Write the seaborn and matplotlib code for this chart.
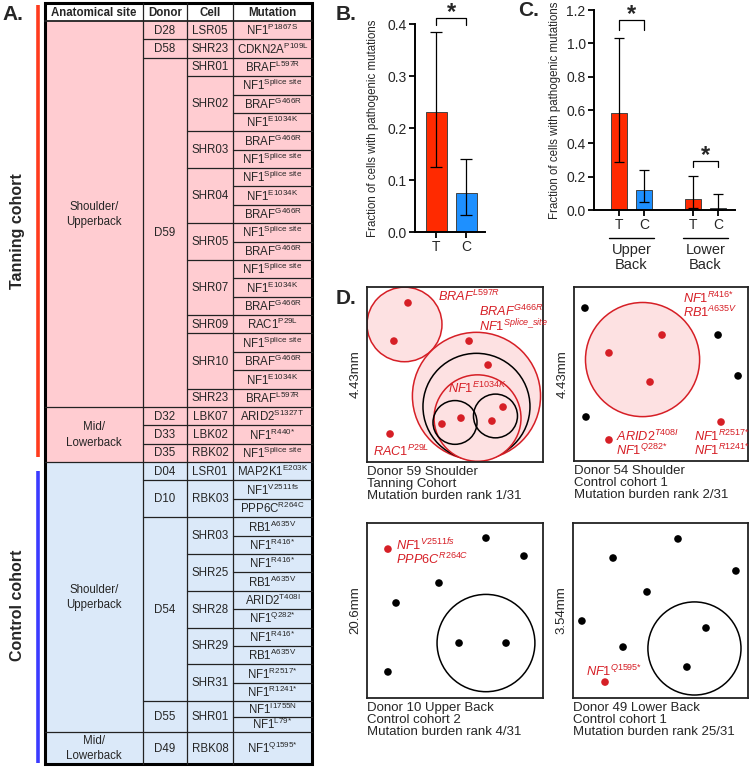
import numpy as np
import pandas as pd
import seaborn as sns
import matplotlib.pyplot as plt
import matplotlib.transforms as mtransforms
from matplotlib.patches import Rectangle, Circle
from matplotlib.ticker import FormatStrFormatter

sns.set_style('ticks')
plt.rcParams['font.family'] = ['Liberation Sans', 'DejaVu Sans']
plt.rcParams['mathtext.fontset'] = 'custom'
plt.rcParams['mathtext.rm'] = 'Liberation Sans'
plt.rcParams['mathtext.it'] = 'Liberation Sans:italic'
plt.rcParams['mathtext.bf'] = 'Liberation Sans:bold'

# ---- panel A table ----
cohort = ['T'] * 24 + ['C'] * 16
site = (['Shoulder/\nUpperback'] * 21 + ['Mid/\nLowerback'] * 3
        + ['Shoulder/\nUpperback'] * 15 + ['Mid/\nLowerback'])
donor = (['D28', 'D58'] + ['D59'] * 19 + ['D32', 'D33', 'D35', 'D04', 'D10', 'D10']
         + ['D54'] * 10 + ['D55', 'D55', 'D49'])
cell = ['LSR05', 'SHR23', 'SHR01', 'SHR02', 'SHR02', 'SHR02', 'SHR03', 'SHR03',
        'SHR04', 'SHR04', 'SHR04', 'SHR05', 'SHR05', 'SHR07', 'SHR07', 'SHR07',
        'SHR09', 'SHR10', 'SHR10', 'SHR10', 'SHR23', 'LBK07', 'LBK02', 'RBK02',
        'LSR01', 'RBK03', 'RBK03', 'SHR03', 'SHR03', 'SHR25', 'SHR25', 'SHR28',
        'SHR28', 'SHR29', 'SHR29', 'SHR31', 'SHR31', 'SHR01', 'SHR01', 'RBK08']
gene = ['NF1', 'CDKN2A', 'BRAF', 'NF1', 'BRAF', 'NF1', 'BRAF', 'NF1', 'NF1', 'NF1',
        'BRAF', 'NF1', 'BRAF', 'NF1', 'NF1', 'BRAF', 'RAC1', 'NF1', 'BRAF', 'NF1',
        'BRAF', 'ARID2', 'NF1', 'NF1',
        'MAP2K1', 'NF1', 'PPP6C', 'RB1', 'NF1', 'NF1', 'RB1', 'ARID2', 'NF1', 'NF1',
        'RB1', 'NF1', 'NF1', 'NF1', 'NF1', 'NF1']
variant = ['P1867S', 'P109L', 'L597R', 'Splice site', 'G466R', 'E1034K', 'G466R',
           'Splice site', 'Splice site', 'E1034K', 'G466R', 'Splice site', 'G466R',
           'Splice site', 'E1034K', 'G466R', 'P29L', 'Splice site', 'G466R', 'E1034K',
           'L597R', 'S1327T', 'R440*', 'Splice site',
           'E203K', 'V2511fs', 'R264C', 'A635V', 'R416*', 'R416*', 'A635V', 'T408I',
           'Q282*', 'R416*', 'A635V', 'R2517*', 'R1241*', 'I1755N', 'L79*', 'Q1595*']

# ---- panel B ----
b_group = ['T', 'C']
b_mean = [0.23, 0.075]
b_lo = [0.125, 0.033]
b_hi = [0.385, 0.141]

# ---- panel C ----
c_site = ['Upper\nBack', 'Upper\nBack', 'Lower\nBack', 'Lower\nBack']
c_cohort = ['T', 'C', 'T', 'C']
c_mean = [0.58, 0.12, 0.068, 0.012]
c_lo = [0.29, 0.048, 0.012, 0.0]
c_hi = [1.033, 0.24, 0.205, 0.095]

# ---- panel D (positions as fraction of field) ----
d59_red_x = [0.233, 0.153, 0.580, 0.688, 0.426, 0.534, 0.773, 0.710, 0.131]
d59_red_y = [0.909, 0.691, 0.691, 0.554, 0.217, 0.251, 0.314, 0.234, 0.160]
d59_blk_x, d59_blk_y = [], []
d59_circles = [(0.213, 0.786, 0.213, 'red'), (0.622, 0.377, 0.364, 'red'),
               (0.622, 0.317, 0.304, 'black'), (0.628, 0.251, 0.247, 'red'),
               (0.500, 0.226, 0.125, 'black'), (0.730, 0.263, 0.125, 'black')]

d54_red_x = [0.201, 0.506, 0.437, 0.201, 0.845]
d54_red_y = [0.621, 0.724, 0.454, 0.121, 0.224]
d54_blk_x = [0.063, 0.828, 0.943, 0.069]
d54_blk_y = [0.879, 0.724, 0.489, 0.253]
d54_circles = [(0.394, 0.583, 0.328, 'red')]

d10_red_x = [0.119]
d10_red_y = [0.851]
d10_blk_x = [0.676, 0.892, 0.409, 0.165, 0.523, 0.790, 0.119]
d10_blk_y = [0.914, 0.811, 0.657, 0.543, 0.314, 0.314, 0.149]
d10_circles = [(0.676, 0.314, 0.278, 'black')]

d49_red_x = [0.183]
d49_red_y = [0.091]
d49_blk_x = [0.600, 0.229, 0.931, 0.423, 0.051, 0.760, 0.286, 0.651]
d49_blk_y = [0.909, 0.800, 0.726, 0.606, 0.440, 0.400, 0.291, 0.177]
d49_circles = [(0.694, 0.283, 0.266, 'black')]

pink, lightblue = '#ffccd1', '#dbe9f9'
bar_red, bar_blue = '#ff2a00', '#1e90ff'
dot_red = '#d61f26'

W, H = 750, 767
fig = plt.figure(figsize=(7.5, 7.67), dpi=100)


def px_axes(x0, y0, x1, y1):
    return fig.add_axes([x0 / W, 1 - y1 / H, (x1 - x0) / W, (y1 - y0) / H])


bg = fig.add_axes([0, 0, 1, 1])
bg.set_xlim(0, W)
bg.set_ylim(H, 0)
bg.axis('off')

# table layout
cols = [45, 143, 187, 233, 312]
top, head_bot = 3, 21
row_h = np.full(40, 18.38)
row_h[37:39] = 15.5
row_h[39] = 32
y_edges = head_bot + np.concatenate([[0], np.cumsum(row_h)])

for i in range(40):
    bg.add_patch(Rectangle((cols[0], y_edges[i]), cols[-1] - cols[0], row_h[i],
                           fc=pink if cohort[i] == 'T' else lightblue, ec='none'))

site_key = list(zip(cohort, site))
donor_key = list(zip(cohort, site, donor))
cell_key = list(zip(cohort, site, donor, cell))


def runs(keys):
    out, s = [], 0
    for i in range(1, len(keys) + 1):
        if i == len(keys) or keys[i] != keys[s]:
            out.append((s, i, keys[s][-1]))
            s = i
    return out


lc = '#222222'
for i in range(1, 40):
    if site_key[i] != site_key[i - 1]:
        lev = 0
    elif donor_key[i] != donor_key[i - 1]:
        lev = 1
    elif cell_key[i] != cell_key[i - 1]:
        lev = 2
    else:
        lev = 3
    bg.plot([cols[lev], cols[-1]], [y_edges[i], y_edges[i]], color=lc, lw=0.9)

for c in cols[1:4]:
    bg.plot([c, c], [top, y_edges[-1]], color=lc, lw=0.9)
bg.plot([cols[0], cols[-1]], [head_bot, head_bot], color=lc, lw=1.3)
bg.add_patch(Rectangle((cols[0], top), cols[-1] - cols[0], y_edges[-1] - top,
                       fill=False, ec='black', lw=2.2))

tfs = 8.3
for j, name in enumerate(['Anatomical site', 'Donor', 'Cell', 'Mutation']):
    bg.text((cols[j] + cols[j + 1]) / 2, (top + head_bot) / 2 + 0.5, name,
            ha='center', va='center', fontsize=8.3, fontweight='bold')

for j, keys in enumerate([site_key, donor_key, cell_key]):
    for s, e, val in runs(keys):
        bg.text((cols[j] + cols[j + 1]) / 2, (y_edges[s] + y_edges[e]) / 2 + 0.5, val,
                ha='center', va='center', fontsize=tfs, linespacing=1.35)

for i in range(40):
    sup = variant[i].replace(' ', r'\ ').replace('*', '{*}')
    bg.text((cols[3] + cols[4]) / 2, (y_edges[i] + y_edges[i + 1]) / 2 + 0.5,
            gene[i] + r'$^{\mathrm{' + sup + '}}$',
            ha='center', va='center', fontsize=tfs)

# cohort bars
bg.plot([38, 38], [5, 457], color='#ff3b1e', lw=2.6, solid_capstyle='butt')
bg.plot([38, 38], [471, 763], color='#3b3bff', lw=2.6, solid_capstyle='butt')
bg.text(18, 231, 'Tanning cohort', rotation=90, ha='center', va='center',
        fontsize=11.5, fontweight='bold')
bg.text(18, 605, 'Control cohort', rotation=90, ha='center', va='center',
        fontsize=11.5, fontweight='bold')

for lab, x, y in [('A.', 2, 14), ('B.', 336, 14), ('C.', 518, 11), ('D.', 336, 299)]:
    bg.text(x, y, lab, ha='left', va='center', fontsize=15, fontweight='bold')


def style_bar_axes(ax):
    sns.despine(ax=ax)
    for sp in ['left', 'bottom']:
        ax.spines[sp].set_linewidth(1.4)
        ax.spines[sp].set_color('black')
    ax.tick_params(direction='out', length=4, width=1.3, labelsize=10, pad=2, color='black')
    ax.yaxis.set_major_formatter(FormatStrFormatter('%.1f'))
    ax.set_xlabel('')


# ---- panel B ----
axB = px_axes(415, 24, 485, 232)
sns.barplot(x=b_group, y=b_mean, hue=b_group, palette=[bar_red, bar_blue], width=0.7,
            saturation=1, edgecolor='#444444', linewidth=0.7, legend=False, ax=axB)
xb = [p.get_x() + p.get_width() / 2 for p in axB.patches]
axB.errorbar(xb, b_mean, yerr=[np.subtract(b_mean, b_lo), np.subtract(b_hi, b_mean)],
             fmt='none', ecolor='black', elinewidth=0.9, capsize=4.5, capthick=0.9, zorder=5)
axB.set_xlim(-0.7, 1.633)
axB.set_ylim(0, 0.4)
axB.set_yticks([0, 0.1, 0.2, 0.3, 0.4])
style_bar_axes(axB)
axB.set_ylabel('Fraction of cells with pathogenic mutations', fontsize=8.3)
axB.yaxis.set_label_coords(-0.52, 0.5)
axB.plot([xb[0], xb[0], xb[1], xb[1]], [0.398, 0.412, 0.412, 0.398], color='black',
         lw=0.9, clip_on=False)
axB.text(np.mean(xb), 0.400, '*', ha='center', va='bottom', fontsize=17,
         fontweight='bold')

# ---- panel C ----
axC = px_axes(594, 10, 735, 210)
sns.barplot(x=c_site, y=c_mean, hue=c_cohort, palette=[bar_red, bar_blue], width=0.676,
            gap=0.34, saturation=1, edgecolor='#444444', linewidth=0.7, legend=False, ax=axC)
xc = sorted(p.get_x() + p.get_width() / 2 for p in axC.patches)
axC.errorbar(xc, c_mean, yerr=[np.subtract(c_mean, c_lo), np.subtract(c_hi, c_mean)],
             fmt='none', ecolor='black', elinewidth=0.9, capsize=3.5, capthick=0.9, zorder=5)
axC.set_xlim(-0.507, 1.399)
axC.set_ylim(0, 1.2)
axC.set_yticks([0, 0.2, 0.4, 0.6, 0.8, 1.0, 1.2])
style_bar_axes(axC)
axC.set_xticks(xc)
axC.set_xticklabels(c_cohort)
axC.set_ylabel('Fraction of cells with pathogenic mutations', fontsize=8.3)
axC.yaxis.set_label_coords(-0.235, 0.5)
trC = mtransforms.blended_transform_factory(axC.transData, axC.transAxes)
for g, name in enumerate(['Upper\nBack', 'Lower\nBack']):
    axC.plot([g - 0.31, g + 0.31], [-0.14, -0.14], color='black', lw=1.0,
             transform=trC, clip_on=False)
    axC.text(g, -0.165, name, transform=trC, ha='center', va='top', fontsize=10.5,
             linespacing=1.1)
for (a, b), ytop, ylow in [((0, 1), 1.14, 1.08), ((2, 3), 0.294, 0.258)]:
    axC.plot([xc[a], xc[a], xc[b], xc[b]], [ylow, ytop, ytop, ylow], color='black',
             lw=0.9, clip_on=False)
    axC.text((xc[a] + xc[b]) / 2, ytop - 0.035, '*', ha='center', va='bottom',
             fontsize=17, fontweight='bold')


# ---- panel D ----
def draw_field(ax, red_x, red_y, blk_x, blk_y, circles, labels, side, caption):
    for cx, cy, r, kind in circles:
        if kind == 'red':
            ax.add_patch(Circle((cx, cy), r, fc='#fde1e2', ec=dot_red, lw=1.1, zorder=1))
        else:
            ax.add_patch(Circle((cx, cy), r, fc='none', ec='black', lw=1.1, zorder=1))
    if blk_x:
        sns.scatterplot(x=blk_x, y=blk_y, color='black', s=30, edgecolor='none',
                        ax=ax, zorder=3)
    sns.scatterplot(x=red_x, y=red_y, color=dot_red, s=30, edgecolor='none',
                    ax=ax, zorder=3)
    for x, y, txt in labels:
        ax.text(x, y, txt, ha='left', va='center', fontsize=9.2, color=dot_red,
                linespacing=0.88, zorder=4)
    ax.set_xlim(0, 1)
    ax.set_ylim(0, 1)
    ax.set_xticks([])
    ax.set_yticks([])
    for sp in ax.spines.values():
        sp.set_visible(True)
        sp.set_linewidth(1.3)
        sp.set_color('#222222')
    ax.set_ylabel(side, fontsize=9.5)
    ax.yaxis.set_label_coords(-0.03, 0.5)
    ax.text(0, -0.025, caption, transform=ax.transAxes, ha='left', va='top',
            fontsize=9.5, linespacing=1.0)


def lab(g, s):
    return r'$\mathit{' + g + r'}^{\mathit{' + s + '}}$'


ax1 = px_axes(367, 287, 543, 462)
draw_field(ax1, d59_red_x, d59_red_y, d59_blk_x, d59_blk_y, d59_circles,
           [(0.403, 0.948, lab('BRAF', 'L597R')),
            (0.636, 0.818, lab('BRAF', 'G466R') + '\n' + lab('NF1', r'Splice\_site')),
            (0.46, 0.423, lab('NF1', 'E1034K')),
            (0.034, 0.063, lab('RAC1', 'P29L'))],
           '4.43mm', 'Donor 59 Shoulder\nTanning Cohort\nMutation burden rank 1/31')

ax2 = px_axes(574, 287, 748, 461)
draw_field(ax2, d54_red_x, d54_red_y, d54_blk_x, d54_blk_y, d54_circles,
           [(0.626, 0.893, lab('NF1', 'R416{*}') + '\n' + lab('RB1', 'A635V')),
            (0.241, 0.103, lab('ARID2', 'T408I') + '\n' + lab('NF1', 'Q282{*}')),
            (0.69, 0.103, lab('NF1', 'R2517{*}') + '\n' + lab('NF1', 'R1241{*}'))],
           '4.43mm', 'Donor 54 Shoulder\nControl cohort 1\nMutation burden rank 2/31')

ax3 = px_axes(367, 523, 543, 698)
draw_field(ax3, d10_red_x, d10_red_y, d10_blk_x, d10_blk_y, d10_circles,
           [(0.165, 0.834, lab('NF1', 'V2511fs') + '\n' + lab('PPP6C', 'R264C'))],
           '20.6mm', 'Donor 10 Upper Back\nControl cohort 2\nMutation burden rank 4/31')

ax4 = px_axes(573, 523, 748, 698)
draw_field(ax4, d49_red_x, d49_red_y, d49_blk_x, d49_blk_y, d49_circles,
           [(0.074, 0.154, lab('NF1', 'Q1595{*}'))],
           '3.54mm', 'Donor 49 Lower Back\nControl cohort 1\nMutation burden rank 25/31')

fig.savefig('out.png', dpi=100)
